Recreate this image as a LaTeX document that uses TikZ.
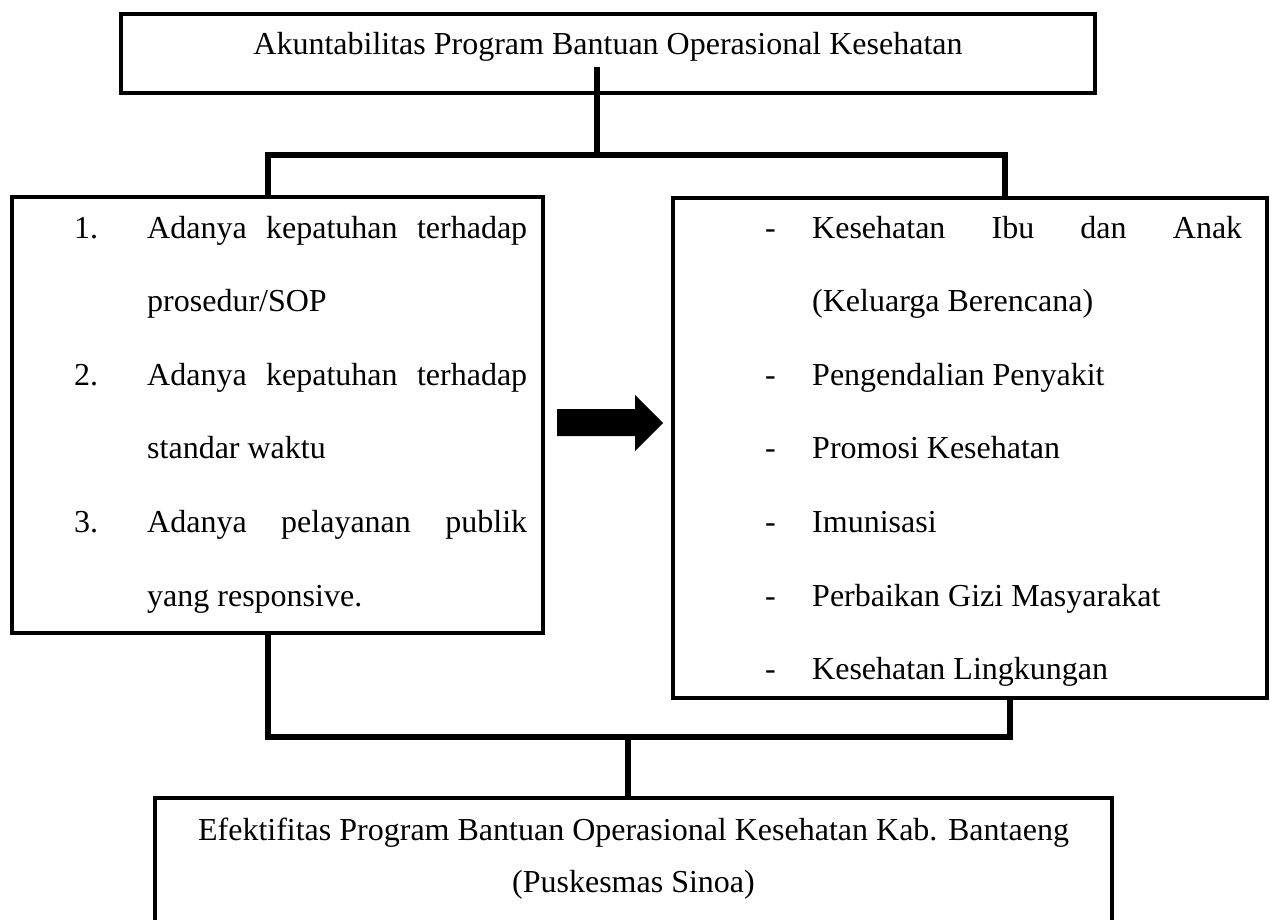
\documentclass[tikz,border=0pt]{standalone}
\usepackage{fontspec}
\setmainfont{Liberation Serif}
\begin{document}
\begin{tikzpicture}[x=1pt,y=-1pt,line join=miter,
  box/.style={draw,line width=4.5pt,inner sep=0pt,outer sep=0pt},
  link/.style={line width=6pt},
  txt/.style={anchor=base west,inner sep=0pt,font=\fontsize{32}{38}\selectfont}]
\useasboundingbox (0,0) rectangle (1274,920);
\clip (0,0) rectangle (1274,920);
% boxes
\node[box,minimum width=974pt,minimum height=79pt] (akun) at (608,53.5) {};
\node[box,minimum width=531pt,minimum height=436pt] (indik) at (277.5,415) {};
\node[box,minimum width=594pt,minimum height=500pt] (prog) at (970,448) {};
\node[box,minimum width=957pt,minimum height=152pt] (efek) at (633.5,874) {};
% texts
\node[txt,anchor=base] (akunT) at (608,55) {Akuntabilitas Program Bantuan Operasional Kesehatan};
\node[txt] (n1) at (74,238) {1.};
\node[txt] (i1) at (147,238) {\makebox[380pt][s]{Adanya kepatuhan terhadap}};
\node[txt] (i1b) at (147,311.6) {prosedur/SOP};
\node[txt] (n2) at (74,385.2) {2.};
\node[txt] (i2) at (147,385.2) {\makebox[380pt][s]{Adanya kepatuhan terhadap}};
\node[txt] (i2b) at (147,458.8) {standar waktu};
\node[txt] (n3) at (74,532.4) {3.};
\node[txt] (i3) at (147,532.4) {\makebox[380pt][s]{Adanya pelayanan publik}};
\node[txt] (i3b) at (147,606) {yang responsive.};
\foreach \i in {0,2,3,4,5,6}
{\node[txt] (d\i) at (765,238+73.6*\i) {-};}
\node[txt] (p0) at (812,238) {\makebox[430pt][s]{Kesehatan Ibu dan Anak}};
\node[txt] (p1) at (812,311.6) {(Keluarga Berencana)};
\node[txt] (p2) at (812,385.2) {Pengendalian Penyakit};
\node[txt] (p3) at (812,458.8) {Promosi Kesehatan};
\node[txt] (p4) at (812,532.4) {Imunisasi};
\node[txt] (p5) at (812,606) {Perbaikan Gizi Masyarakat};
\node[txt] (p6) at (812,679.6) {Kesehatan Lingkungan};
\node[txt,anchor=base] (efekT) at (633.5,840) {Efektifitas Program Bantuan Operasional Kesehatan Kab. Bantaeng};
\node[txt,anchor=base] (efekT2) at (633.5,892) {(Puskesmas Sinoa)};
% connectors
\coordinate (topdrop) at (597,67);
\coordinate (busL) at (268,155);
\coordinate (busR) at (1005,155);
\coordinate (botL) at (268,737);
\coordinate (botR) at (1010,737);
\coordinate (mid) at (628,737);
\draw[link] (topdrop) -- (topdrop |- busL);
\draw[link] (indik.north -| busL) -- (busL) -- (busR) -- (prog.north -| busR);
\draw[link] (indik.south -| botL) -- (botL) -- (botR) -- (prog.south -| botR);
\draw[link] (mid) -- (mid |- efek.north);
% arrow
\fill (557,409) -- (635,409) -- (635,395) -- (663,423) -- (635,451)
  -- (635,436) -- (557,436) -- cycle;
\end{tikzpicture}
\end{document}
